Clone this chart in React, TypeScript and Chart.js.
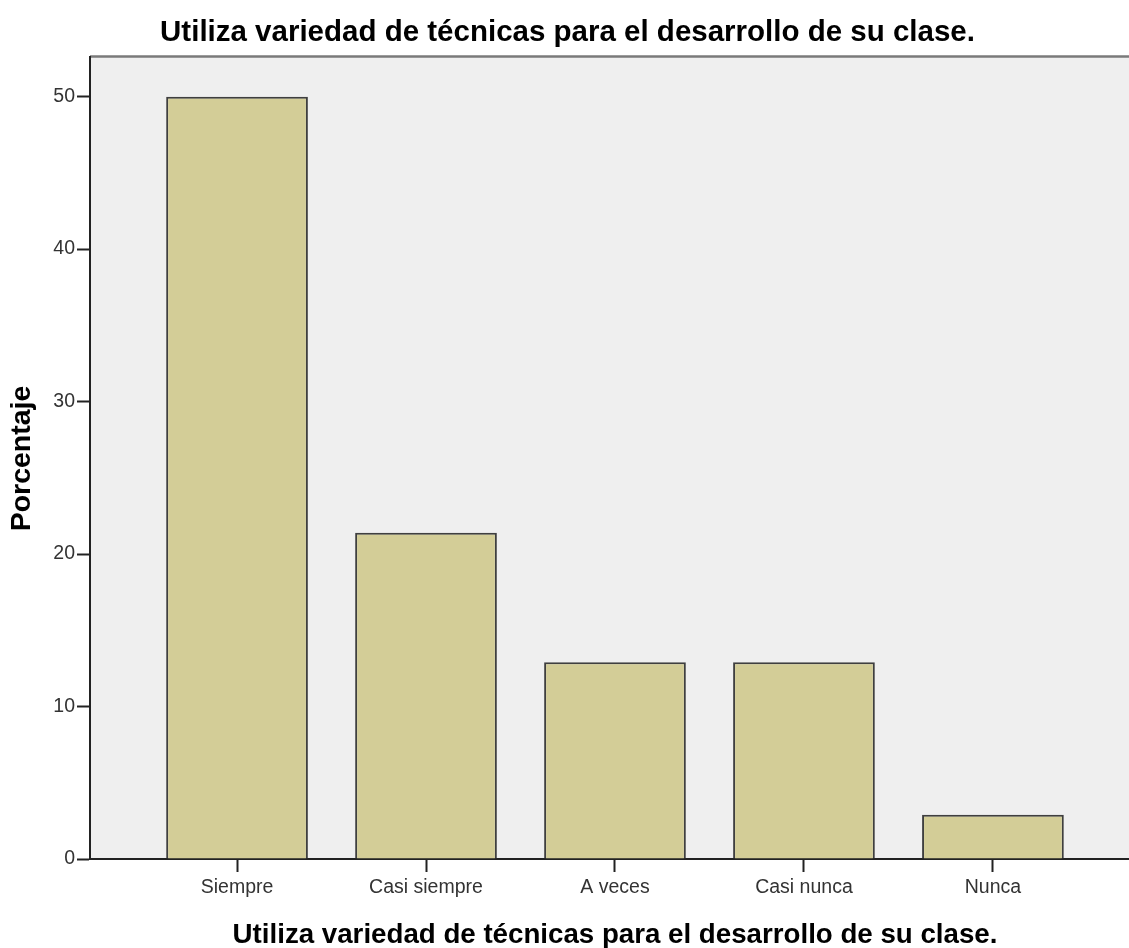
import React, { useEffect, useRef } from 'react';
import { Chart, registerables } from 'chart.js';

Chart.register(...registerables);

const chartTitle = 'Utiliza variedad de técnicas para el desarrollo de su clase.';
const xAxisTitle = 'Utiliza variedad de técnicas para el desarrollo de su clase.';
const yAxisTitle = 'Porcentaje';
const categories = ['Siempre', 'Casi siempre', 'A veces', 'Casi nunca', 'Nunca'];
const percentages = [50.0, 21.4, 12.9, 12.9, 2.9];
const yTickValues = [0, 10, 20, 30, 40, 50];

const W = 1129;
const H = 948;
const FONT = '"Liberation Sans", Arial, Helvetica, sans-serif';

const decor = {
  id: 'decor',
  beforeDraw(chart: any) {
    const { ctx, chartArea: a } = chart;
    ctx.save();
    ctx.fillStyle = '#ffffff';
    ctx.fillRect(0, 0, W, H);
    ctx.fillStyle = '#EFEFEF';
    ctx.fillRect(a.left, a.top, a.right - a.left, a.bottom - a.top);
    ctx.strokeStyle = '#7a7a7a';
    ctx.lineWidth = 2.5;
    ctx.beginPath();
    ctx.moveTo(a.left, a.top - 0.5);
    ctx.lineTo(a.right, a.top - 0.5);
    ctx.stroke();
    ctx.restore();
  },
  afterDraw(chart: any) {
    const { ctx } = chart;
    ctx.save();
    ctx.fillStyle = '#000';
    ctx.textAlign = 'center';
    ctx.textBaseline = 'alphabetic';
    ctx.font = `bold 29.5px ${FONT}`;
    ctx.fillText(chartTitle, 567.5, 41);
    ctx.font = `bold 27.7px ${FONT}`;
    ctx.fillText(xAxisTitle, 615, 943);
    ctx.font = `bold 28.5px ${FONT}`;
    ctx.translate(30, 458.5);
    ctx.rotate(-Math.PI / 2);
    ctx.fillText(yAxisTitle, 0, 0);
    ctx.restore();
  },
};

export default function App() {
  const ref = useRef<HTMLCanvasElement | null>(null);

  useEffect(() => {
    if (!ref.current) return;
    const tickFont = { family: FONT, size: 19.5 };
    const chart = new Chart(ref.current, {
      type: 'bar',
      data: {
        datasets: [
          {
            label: yAxisTitle,
            data: categories.map((_, i) => ({ x: i, y: percentages[i] })),
            backgroundColor: '#D3CD97',
            borderColor: '#3f3f3f',
            borderWidth: 2,
            barPercentage: 0.75,
            categoryPercentage: 1,
          },
        ],
      },
      options: {
        responsive: false,
        animation: false,
        devicePixelRatio: 1,
        layout: { padding: { top: 57, left: 0, right: 0, bottom: 0 } },
        plugins: {
          legend: { display: false },
          tooltip: { enabled: false },
          title: { display: false },
        },
        scales: {
          x: {
            type: 'linear',
            min: -0.778,
            max: 4.72,
            offset: false,
            afterBuildTicks: (s: any) => {
              s.ticks = categories.map((_, i) => ({ value: i }));
            },
            afterFit: (s: any) => {
              s.height = 89;
            },
            grid: {
              display: true,
              offset: false,
              drawOnChartArea: false,
              drawTicks: true,
              tickLength: 13,
              tickColor: '#222',
              tickWidth: 2,
            },
            border: { display: true, color: '#222', width: 2 },
            ticks: {
              autoSkip: false,
              maxRotation: 0,
              minRotation: 0,
              padding: 4,
              color: '#333',
              font: tickFont,
              callback: (v: any) => categories[v] ?? '',
            },
          },
          y: {
            type: 'linear',
            min: 0,
            max: 52.6,
            afterBuildTicks: (s: any) => {
              s.ticks = yTickValues.map((v) => ({ value: v }));
            },
            afterFit: (s: any) => {
              s.width = 90;
            },
            grid: {
              display: true,
              offset: false,
              drawOnChartArea: false,
              drawTicks: true,
              tickLength: 13,
              tickColor: '#222',
              tickWidth: 2,
            },
            border: { display: true, color: '#222', width: 2 },
            ticks: {
              padding: 2,
              color: '#333',
              font: tickFont,
              callback: (v: any) => String(v),
            },
          },
        },
      },
      plugins: [decor],
    } as any);
    return () => chart.destroy();
  }, []);

  return (
    <div style={{ position: 'absolute', left: 0, top: 0, width: W, height: H, background: '#fff' }}>
      <canvas ref={ref} width={W} height={H} style={{ display: 'block', width: W, height: H }} />
    </div>
  );
}
